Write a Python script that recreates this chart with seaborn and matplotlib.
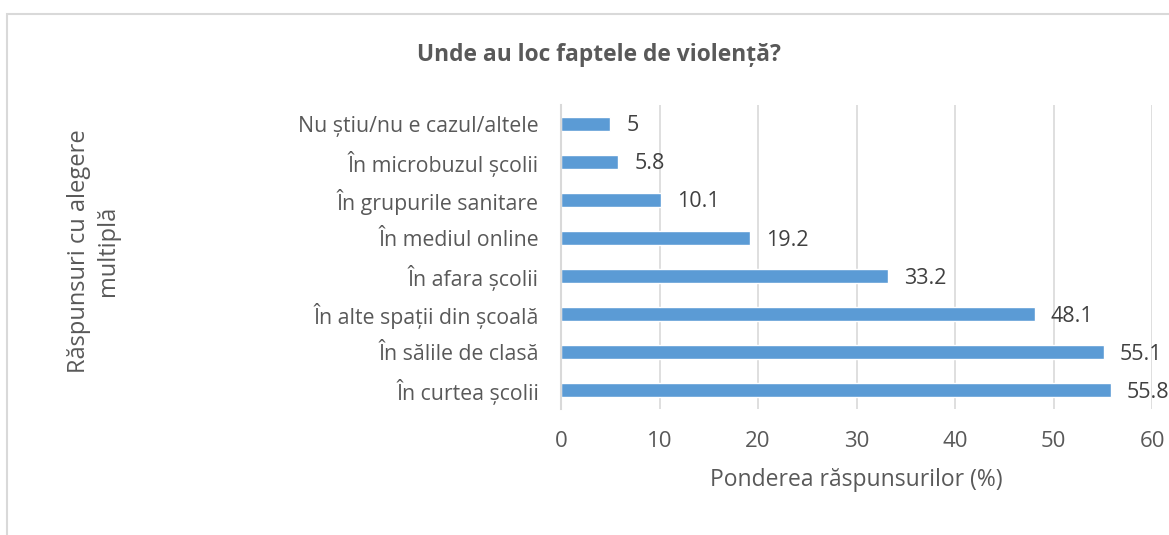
import matplotlib
matplotlib.use("Agg")
import matplotlib.pyplot as plt
import seaborn as sns
import pandas as pd
from matplotlib.patches import Rectangle

categories = [
    "Nu știu/nu e cazul/altele",
    "În microbuzul școlii",
    "În grupurile sanitare",
    "În mediul online",
    "În afara școlii",
    "În alte spații din școală",
    "În sălile de clasă",
    "În curtea școlii",
]
values = [5, 5.8, 10.1, 19.2, 33.2, 48.1, 55.1, 55.8]
value_labels = ["5", "5.8", "10.1", "19.2", "33.2", "48.1", "55.1", "55.8"]
x_ticks = [0, 10, 20, 30, 40, 50, 60]

title = "Unde au loc faptele de violență?"
xlabel = "Ponderea răspunsurilor (%)"
ylabel = "Răspunsuri cu alegere\nmultiplă"

sns.set_theme(style="white")
plt.rcParams["font.family"] = ["Open Sans", "DejaVu Sans"]

TEXT = "#595959"
BAR = "#5B9BD5"
GRID = "#D9D9D9"

df = pd.DataFrame({"cat": categories, "val": values})

fig = plt.figure(figsize=(11.69, 5.35), dpi=100)
ax = fig.add_axes([0.48, 0.2355, 0.5055, 0.5685])

sns.barplot(data=df, y="cat", x="val", orient="h", color=BAR, width=0.35,
            saturation=1, ax=ax, order=categories)

ax.set_xlim(0, 60)
ax.set_ylim(len(categories) - 0.5, -0.5)
ax.set_xticks(x_ticks)
ax.set_xticklabels([str(t) for t in x_ticks])
ax.xaxis.grid(True, color=GRID, linewidth=1.2)
ax.set_axisbelow(True)
for s in ["top", "right", "bottom"]:
    ax.spines[s].set_visible(False)
ax.spines["left"].set_color(GRID)
ax.spines["left"].set_linewidth(1.5)
ax.tick_params(axis="both", length=0, labelcolor=TEXT)
ax.tick_params(axis="x", pad=16, labelsize=16)
ax.tick_params(axis="y", pad=16, labelsize=15.3)

for i, (v, lab) in enumerate(zip(values, value_labels)):
    ax.annotate(lab, (v, i), xytext=(11.5, -1.5), textcoords="offset points",
                va="center", ha="left", fontsize=15.5, color="#404040")

ax.set_xlabel(xlabel, fontsize=16.5, color=TEXT, labelpad=11)
ax.set_ylabel("")
fig.text(0.080, 0.531, ylabel, rotation=90, ha="center", va="center",
         fontsize=17, color=TEXT, multialignment="center", linespacing=1.3)

fig.text(0.512, 0.898, title, ha="center", va="center", fontsize=16.4,
         fontweight="bold", color=TEXT)

fig.patches.append(Rectangle((0.006, -0.1), 1.1, 1.074, transform=fig.transFigure,
                             fill=False, edgecolor=GRID, linewidth=1.5))

fig.savefig("out.png", dpi=100)
